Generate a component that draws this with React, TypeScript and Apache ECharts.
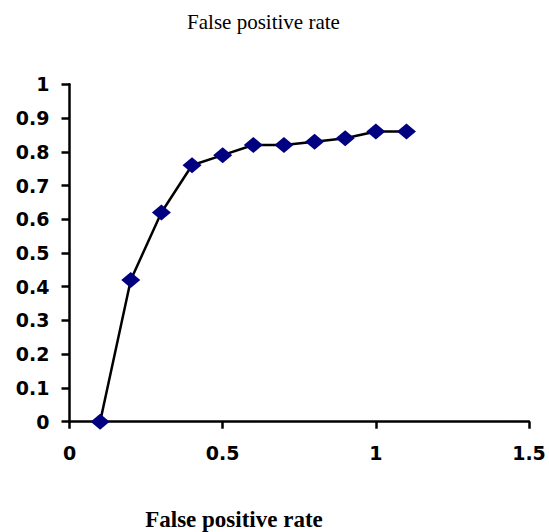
import React, { useEffect, useRef } from "react";
import * as echarts from "echarts";

const xValues = [0.1, 0.2, 0.3, 0.4, 0.5, 0.6, 0.7, 0.8, 0.9, 1.0, 1.1];
const yValues = [0, 0.42, 0.62, 0.76, 0.79, 0.82, 0.82, 0.83, 0.84, 0.86, 0.86];
const titleText = "False positive rate";
const xAxisTitle = "False positive rate";

export default function App() {
  const ref = useRef<HTMLDivElement>(null);
  useEffect(() => {
    document.body.style.margin = "0";
    if (!ref.current) return;
    const chart = echarts.init(ref.current, null, { renderer: "svg" });
    const labelStyle = {
      color: "#000",
      fontFamily: "DejaVu Sans",
      fontWeight: "bold" as const,
      fontSize: 19,
    };
    chart.setOption({
      animation: false,
      backgroundColor: "#fff",
      grid: { left: 69.5, right: 20, top: 84.3, bottom: 110.3, containLabel: false },
      xAxis: {
        type: "value",
        min: 0,
        max: 1.5,
        interval: 0.5,
        splitLine: { show: false },
        axisLine: { show: true, onZero: false, lineStyle: { color: "#000", width: 2.5 } },
        axisTick: { show: true, inside: false, length: 7, lineStyle: { color: "#000", width: 2.5 } },
        axisLabel: { ...labelStyle, margin: 22, formatter: (v: number) => String(+v.toFixed(2)) },
      },
      yAxis: {
        type: "value",
        min: 0,
        max: 1,
        interval: 0.1,
        splitLine: { show: false },
        axisLine: { show: true, onZero: false, lineStyle: { color: "#000", width: 2.5 } },
        axisTick: { show: true, inside: false, length: 8, lineStyle: { color: "#000", width: 2.5 } },
        axisLabel: { ...labelStyle, margin: 20, formatter: (v: number) => String(+v.toFixed(2)) },
      },
      graphic: [
        {
          type: "text",
          x: 263.5,
          y: 22,
          style: {
            text: titleText,
            fontFamily: "Liberation Serif",
            fontSize: 21,
            fill: "#000",
            textAlign: "center",
            textVerticalAlign: "middle",
          },
        },
        {
          type: "text",
          x: 234,
          y: 519,
          style: {
            text: xAxisTitle,
            fontFamily: "Liberation Serif",
            fontWeight: "bold",
            fontSize: 23,
            fill: "#000",
            textAlign: "center",
            textVerticalAlign: "middle",
          },
        },
      ],
      series: [
        {
          type: "line",
          data: xValues.map((x, i) => [x, yValues[i]]),
          symbol: "diamond",
          symbolSize: [19, 16],
          itemStyle: { color: "#000080", borderWidth: 0 },
          lineStyle: { color: "#000", width: 2.5 },
          z: 3,
        },
      ],
    });
    return () => chart.dispose();
  }, []);
  return <div ref={ref} style={{ width: 549, height: 532 }} />;
}
